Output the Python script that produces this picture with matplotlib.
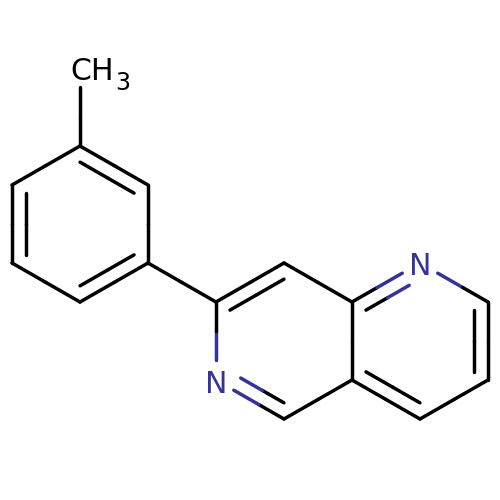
import math
import matplotlib
matplotlib.use("Agg")
import matplotlib.pyplot as plt

# atom positions, in pixels
atom_x = [80, 80, 148, 148, 80, 12, 12, 216, 284, 352, 420, 488, 488, 420, 352, 284, 216]
atom_y = [87, 146, 185, 263, 302, 263, 185, 302, 263, 302, 263, 302, 380, 419, 380, 419, 380]
nitrogens = [10, 16]
nitrogen_baseline = [275, 393]
single_bonds = [(0, 1), (2, 3), (4, 5), (6, 1), (3, 7), (8, 9), (10, 11), (12, 13), (14, 15), (16, 7), (9, 14)]
# third item is the ring centre the inner line sits towards
double_bonds = [
    (1, 2, (80, 224)), (3, 4, (80, 224)), (5, 6, (80, 224)),
    (7, 8, (284, 341)), (15, 16, (284, 341)),
    (9, 10, (420, 341)), (11, 12, (420, 341)), (13, 14, (420, 341)),
]

BLACK = "#000000"
BLUE = "#33339a"
LW = 2.5
GAP = 20.5
OFFSET = 14


def draw_bond(ax, x1, y1, x2, y2, c1, c2):
    # each half takes the colour of the atom at its end
    xm = (x1 + x2) / 2
    ym = (y1 + y2) / 2
    ax.plot([x1, xm], [y1, ym], color=c1, lw=LW, solid_capstyle="round")
    ax.plot([xm, x2], [ym, y2], color=c2, lw=LW, solid_capstyle="round")


def bond_ends(a, b, trim=0.0):
    x1, y1, x2, y2 = atom_x[a], atom_y[a], atom_x[b], atom_y[b]
    length = math.hypot(x2 - x1, y2 - y1)
    ux, uy = (x2 - x1) / length, (y2 - y1) / length
    t1 = GAP if a in nitrogens else trim
    t2 = GAP if b in nitrogens else trim
    return x1 + ux * t1, y1 + uy * t1, x2 - ux * t2, y2 - uy * t2


def atom_color(a):
    return BLUE if a in nitrogens else BLACK


fig = plt.figure(figsize=(5, 5), dpi=100)
ax = fig.add_axes([0, 0, 1, 1])
ax.set_xlim(0, 500)
ax.set_ylim(500, 0)
ax.axis("off")

for a, b in single_bonds:
    draw_bond(ax, *bond_ends(a, b), atom_color(a), atom_color(b))

for a, b, centre in double_bonds:
    draw_bond(ax, *bond_ends(a, b), atom_color(a), atom_color(b))
    x1, y1, x2, y2 = bond_ends(a, b, OFFSET * math.tan(math.radians(30)))
    length = math.hypot(x2 - x1, y2 - y1)
    nx, ny = -(y2 - y1) / length, (x2 - x1) / length
    mx, my = (x1 + x2) / 2, (y1 + y2) / 2
    if (centre[0] - mx) * nx + (centre[1] - my) * ny < 0:
        nx, ny = -nx, -ny
    draw_bond(ax, x1 + nx * OFFSET, y1 + ny * OFFSET, x2 + nx * OFFSET, y2 + ny * OFFSET,
              atom_color(a), atom_color(b))

for n, base in zip(nitrogens, nitrogen_baseline):
    ax.text(atom_x[n], base, "N", color=BLUE, fontsize=21.6,
            family="DejaVu Sans", ha="center", va="baseline")

ax.text(70.5, 80, "CH", color=BLACK, fontsize=21.6, family="DejaVu Sans", ha="left", va="baseline")
ax.text(115.5, 90.5, "3", color=BLACK, fontsize=17, family="DejaVu Sans", ha="left", va="baseline")

fig.savefig("out.png", dpi=100)
